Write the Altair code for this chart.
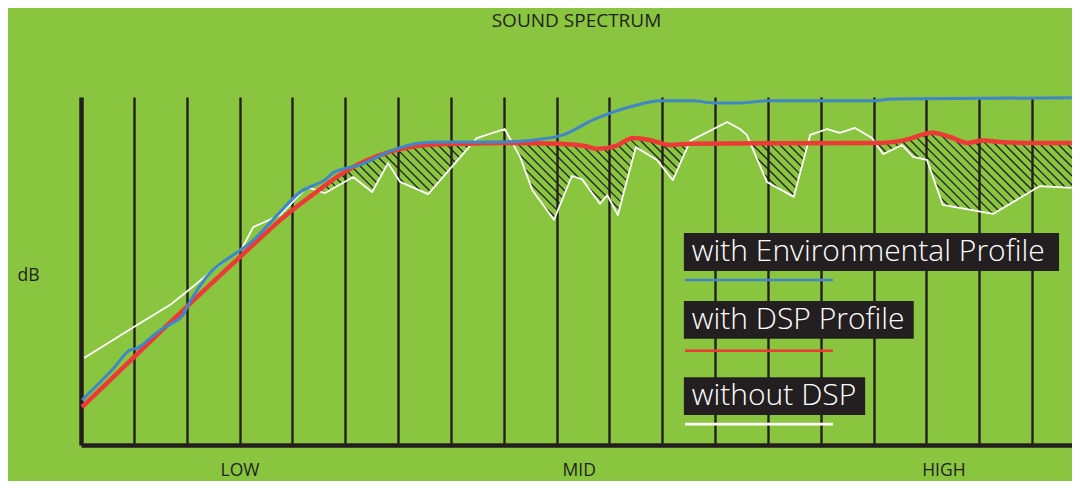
import altair as alt
import numpy as np
import pandas as pd

# ---------------- data (x: frequency band position, y: relative level 0-100) ----------------
red_x = [0.02, 1.50, 2.95, 3.96, 4.33, 4.96, 5.60, 6.23, 6.79, 7.36, 7.93, 9.07, 9.54, 9.78,
         10.11, 10.45, 10.77, 11.15, 11.53, 15.12, 15.59, 16.11, 16.45, 16.77, 17.07, 17.39,
         17.96, 18.75]
red_y = [10.9, 32.5, 53.2, 67.0, 71.3, 78.2, 83.0, 85.6, 86.4, 86.6, 86.8, 86.6, 85.9, 85.1,
         85.9, 88.2, 87.6, 86.2, 86.6, 86.8, 87.6, 89.7, 88.5, 86.8, 87.5, 87.1, 86.8, 86.8]

blue_x = [0.02, 0.59, 0.93, 1.08, 1.31, 1.50, 1.74, 1.93, 2.01, 2.44, 2.88, 3.20, 3.63, 4.15,
          4.66, 4.77, 5.28, 5.91, 6.42, 6.79, 7.93, 8.55, 9.12, 9.69, 10.45, 10.96, 11.58,
          11.96, 12.47, 12.98, 14.93, 15.37, 18.75]
blue_y = [12.9, 21.6, 27.3, 27.9, 30.7, 33.0, 35.1, 37.4, 39.7, 49.4, 54.6, 58.0, 64.7, 72.7,
          76.7, 78.2, 80.5, 84.8, 86.8, 87.1, 87.1, 87.6, 89.1, 93.4, 97.4, 98.9, 98.9, 98.3,
          98.3, 98.9, 98.9, 99.4, 99.8]

white_x = [0.06, 0.97, 1.68, 1.97, 2.39, 3.05, 3.26, 3.77, 4.28, 4.62, 5.15, 5.51, 5.81, 6.04,
           6.57, 7.49, 8.02, 8.31, 8.54, 8.95, 9.29, 9.48, 9.82, 9.96, 10.16, 10.50, 10.90,
           11.20, 11.53, 12.23, 12.47, 12.60, 12.98, 13.49, 13.80, 14.12, 14.36, 14.65, 14.97,
           15.18, 15.54, 15.75, 16.01, 16.31, 17.26, 18.15, 18.75]
white_y = [25.0, 33.6, 40.2, 43.7, 48.9, 56.6, 62.6, 66.1, 74.1, 72.4, 77.0, 72.7, 81.0, 75.6,
           72.1, 88.2, 90.8, 82.8, 73.3, 64.7, 77.3, 76.4, 69.3, 71.8, 66.1, 85.6, 81.9, 76.1,
           87.4, 92.8, 90.8, 89.1, 75.6, 71.3, 89.1, 90.8, 89.7, 91.1, 88.2, 83.6, 86.2, 82.8,
           81.9, 69.0, 66.4, 74.4, 73.9]

band_labels = ["LOW", "MID", "HIGH"]
band_label_x = [3.01, 9.43, 16.33]

legend_labels = ["with Environmental Profile", "with DSP Profile", "without DSP"]

# ---------------- style / layout ----------------
GREEN = "#8AC53F"
INK = "#231F20"
RED = "#EE3A36"
BLUE = "#3F87C8"
WHITE = "#FFFFFF"
FONT = "Open Sans"

W, H = 991, 348
XMAX = 18.755
YMAX = 100

xs_scale = alt.Scale(domain=[0, XMAX], nice=False, zero=False)
ys_scale = alt.Scale(domain=[0, YMAX], nice=False, zero=False)

# ---------------- frames ----------------
red_df = pd.DataFrame({"x": red_x, "y": red_y})
blue_df = pd.DataFrame({"x": blue_x, "y": blue_y})
white_df = pd.DataFrame({"x": white_x, "y": white_y})

# hatch (45 deg diagonal lines) filling the gap where "without DSP" falls below "with DSP"
px_x = W / XMAX
px_y = H / YMAX
k = px_x / px_y
fine = np.linspace(0, XMAX, 12000)
r_f = np.interp(fine, red_x, red_y)
w_f = np.interp(fine, white_x, white_y)
step = 9.0 / px_x
segs = []
for c in np.arange(0, XMAX + YMAX / k, step):
    yl = k * (c - fine)
    inside = (yl > w_f) & (yl < r_f)
    edges = np.flatnonzero(np.diff(np.concatenate([[0], inside.astype(int), [0]])))
    for s, e in zip(edges[::2], edges[1::2]):
        if e - s < 2:
            continue
        segs.append((fine[s], yl[s], fine[e - 1], yl[e - 1]))
hatch_df = pd.DataFrame(segs, columns=["x", "y", "x2", "y2"])

# grid/axes frame
axis_df = pd.DataFrame({"x": [0, XMAX], "y": [0, YMAX]})

base_x = alt.X("x:Q", scale=xs_scale,
               axis=alt.Axis(values=list(range(1, 19)), grid=True, gridColor=INK, gridWidth=2.4,
                             gridOpacity=1, domain=True, domainColor=INK, domainWidth=4.5,
                             ticks=False, labels=False, title=None))
base_y = alt.Y("y:Q", scale=ys_scale,
               axis=alt.Axis(grid=False, domain=True, domainColor=INK, domainWidth=4.5,
                             ticks=False, labels=False, title="dB", titleAngle=0,
                             titleX=-53, titleY=178, titleAlign="center",
                             titleBaseline="middle", titleFont=FONT, titleFontSize=17.5,
                             titleFontWeight="normal", titleColor=INK))

frame = alt.Chart(axis_df).mark_point(opacity=0).encode(x=base_x, y=base_y)

hatch = alt.Chart(hatch_df).mark_rule(color=INK, strokeWidth=1.3).encode(
    x=alt.X("x:Q", scale=xs_scale), y=alt.Y("y:Q", scale=ys_scale),
    x2="x2:Q", y2="y2:Q")

def series(df, color, width, interp):
    return alt.Chart(df).mark_line(color=color, strokeWidth=width, interpolate=interp,
                                   strokeJoin="round").encode(
        x=alt.X("x:Q", scale=xs_scale), y=alt.Y("y:Q", scale=ys_scale))

white_line = series(white_df, WHITE, 1.8, "linear")
red_line = series(red_df, RED, 4.5, "monotone")
blue_line = series(blue_df, BLUE, 3.0, "monotone")

band_df = pd.DataFrame({"label": band_labels, "x": band_label_x, "y": [-9.0] * 3})
bands = alt.Chart(band_df).mark_text(font=FONT, fontSize=17.5, color=INK,
                                     baseline="alphabetic", align="center").encode(
    x=alt.X("x:Q", scale=xs_scale), y=alt.Y("y:Q", scale=ys_scale), text="label:N")

# legend (boxes, labels and sample lines), placed in chart units
leg = pd.DataFrame({
    "label": legend_labels,
    "bx": [11.41, 11.41, 11.41],
    "bx2": [18.51, 15.76, 14.84],
    "by": [60.9, 41.4, 19.5],
    "by2": [50.0, 30.5, 8.6],
    "tx": [11.56, 11.56, 11.56],
    "ty": [55.5, 35.9, 14.1],
    "lx": [11.43, 11.43, 11.43],
    "lx2": [14.23, 14.23, 14.23],
    "ly": [47.4, 27.1, 6.0],
    "color": [BLUE, RED, WHITE],
})
leg_box = alt.Chart(leg).mark_rect(color=INK).encode(
    x=alt.X("bx:Q", scale=xs_scale), x2="bx2:Q",
    y=alt.Y("by:Q", scale=ys_scale), y2="by2:Q")
leg_text = alt.Chart(leg).mark_text(font=FONT, fontSize=30, fontWeight=300, color=WHITE,
                                    align="left", baseline="middle").encode(
    x=alt.X("tx:Q", scale=xs_scale), y=alt.Y("ty:Q", scale=ys_scale), text="label:N")
leg_line = alt.Chart(leg).mark_rule(strokeWidth=2.6).encode(
    x=alt.X("lx:Q", scale=xs_scale), x2="lx2:Q",
    y=alt.Y("ly:Q", scale=ys_scale),
    color=alt.Color("color:N", scale=None, legend=None))

chart = alt.layer(frame, hatch, white_line, red_line, blue_line, bands,
                  leg_box, leg_text, leg_line).properties(
    width=W, height=H,
    title=alt.TitleParams("SOUND SPECTRUM", font=FONT, fontSize=19, fontWeight="normal",
                          color=INK, anchor="middle", offset=63),
    padding={"left": 73, "top": 89, "right": 0, "bottom": 36},
    autosize=alt.AutoSizeParams(type="none"),
).configure(background=GREEN).configure_view(strokeWidth=0)

chart.save("out.html", embed_options={"renderer": "svg", "actions": False})
